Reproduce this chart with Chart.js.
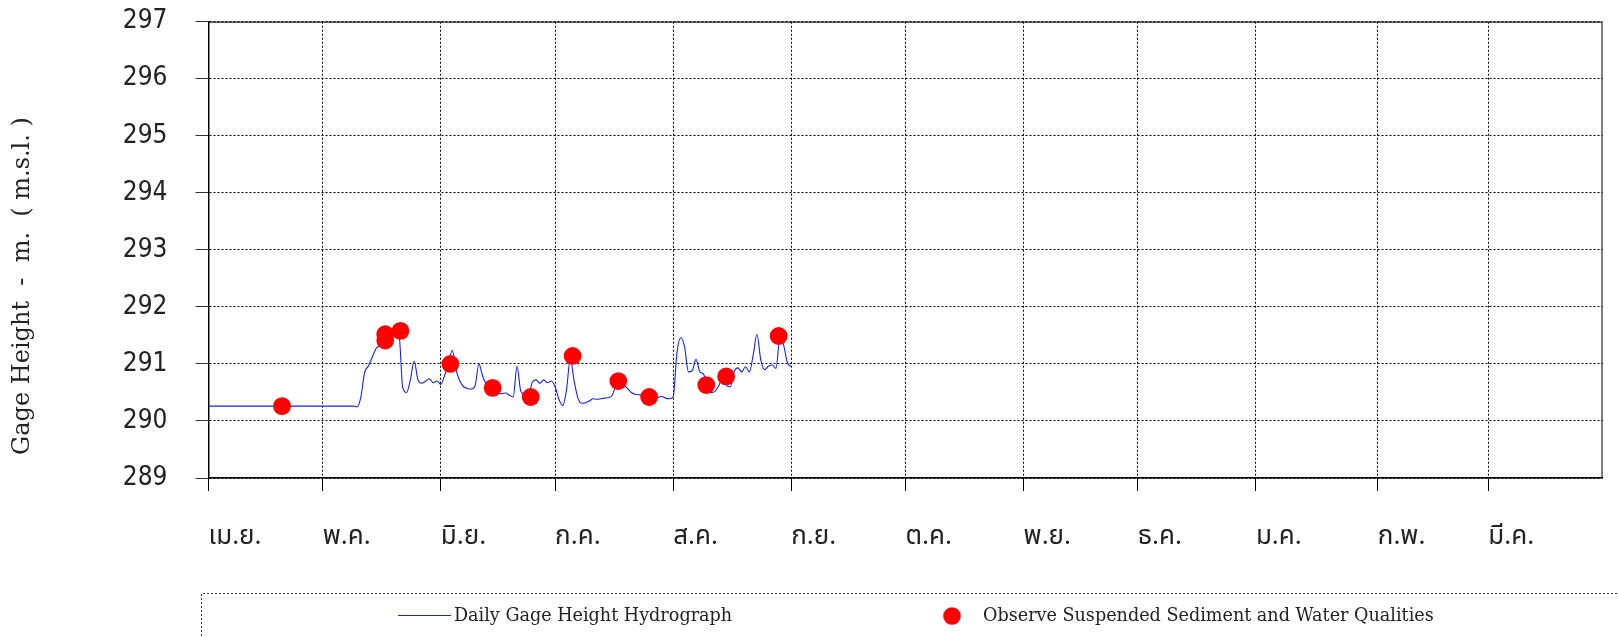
<!DOCTYPE html>
<html><head><meta charset="utf-8">
<script src="https://cdn.jsdelivr.net/npm/chart.js@4"></script>
<style>html,body{margin:0;padding:0;background:#fff;overflow:hidden}#wrap{width:1619px;height:637px;position:relative}</style>
</head><body><div id="wrap"><canvas id="c" width="1619" height="637"></canvas></div>
<script>
const monthLabels = ['เม.ย.','พ.ค.','มิ.ย.','ก.ค.','ส.ค.','ก.ย.','ต.ค.','พ.ย.','ธ.ค.','ม.ค.','ก.พ.','มี.ค.'];
const monthStartDays = [0,30,61,91,122,153,183,214,244,275,307,336];
const yearDays = 366;
const yTicks = [289,290,291,292,293,294,295,296,297];

// daily gage height, day 0 = 1 April
const gageHeight = [
290.26,290.26,290.26,290.26,290.26,290.26,290.26,290.26,290.26,290.26,
290.26,290.26,290.26,290.26,290.26,290.26,290.26,290.26,290.26,290.26,
290.26,290.26,290.26,290.26,290.26,290.26,290.26,290.26,290.26,290.26,
290.26,290.26,290.26,290.26,290.26,290.26,290.26,290.26,290.26,290.25,
290.42,290.85,290.97,291.12,291.27,291.32,291.36,291.42,291.48,291.55,
291.52,290.58,290.50,290.72,291.05,290.72,290.66,290.70,290.74,290.67,
290.70,290.64,290.80,291.00,291.24,290.90,290.70,290.60,290.57,290.56,
290.62,291.00,290.78,290.64,290.58,290.53,290.49,290.48,290.49,290.45,
290.42,290.96,290.52,290.47,290.44,290.68,290.72,290.66,290.72,290.67,
290.70,290.60,290.38,290.27,290.55,291.10,290.70,290.40,290.31,290.32,
290.35,290.39,290.38,290.39,290.40,290.41,290.45,290.63,290.68,290.63,
290.57,290.50,290.47,290.46,290.44,290.42,290.40,290.39,290.41,290.43,
290.40,290.39,290.42,291.20,291.46,291.30,290.86,290.88,291.08,290.86,
290.82,290.56,290.50,290.52,290.62,290.76,290.62,290.60,290.86,290.93,
290.86,290.95,290.86,291.15,291.52,291.07,290.90,290.96,290.98,290.92,
291.45,291.33,291.02,290.95
];

// observed sediment / water quality samples
const obsDays    = [19.3, 46.4, 46.4, 50.4, 63.5, 74.6, 84.6, 95.6, 107.6, 115.7, 130.7, 135.9, 149.7];
const obsHeights = [290.26, 291.52, 291.41, 291.58, 291.00, 290.58, 290.42, 291.14, 290.70, 290.42, 290.63, 290.78, 291.49];

const yTitleText = 'Gage Height  -  m.  ( m.s.l. )';
const legendLineText = 'Daily Gage Height Hydrograph';
const legendDotText = 'Observe Suspended Sediment and Water Qualities';

const LINE_COLOR = 'rgb(20,30,255)';
const DOT_COLOR = '#ff0000';
const TXT = '#222';
const SERIF = '"DejaVu Serif", "Liberation Serif", serif';

const extras = {
  id: 'extras',
  beforeDatasetsDraw(chart) {
    const {ctx, chartArea: a} = chart;
    ctx.save();
    ctx.strokeStyle = '#000';
    ctx.lineWidth = 1;
    ctx.beginPath();
    ctx.moveTo(a.left, a.top + 0.5);
    ctx.lineTo(a.right - 0.5, a.top + 0.5);
    ctx.lineTo(a.right - 0.5, a.bottom);
    ctx.stroke();
    ctx.restore();
  },
  afterDraw(chart) {
    const {ctx} = chart;
    ctx.save();
    ctx.translate(23, 286);
    ctx.rotate(-Math.PI / 2);
    ctx.fillStyle = TXT;
    ctx.font = '24px ' + SERIF;
    ctx.textAlign = 'center';
    ctx.textBaseline = 'middle';
    ctx.fillText(yTitleText, 0, 0);
    ctx.restore();

    ctx.save();
    ctx.strokeStyle = '#333';
    ctx.lineWidth = 1;
    ctx.setLineDash([2, 2]);
    ctx.beginPath();
    ctx.moveTo(201.5, 640);
    ctx.lineTo(201.5, 593.5);
    ctx.lineTo(1619, 593.5);
    ctx.stroke();
    ctx.setLineDash([]);
    ctx.strokeStyle = LINE_COLOR;
    ctx.beginPath();
    ctx.moveTo(398, 615.5);
    ctx.lineTo(451, 615.5);
    ctx.stroke();
    ctx.fillStyle = DOT_COLOR;
    ctx.beginPath();
    ctx.arc(952, 616, 8.8, 0, Math.PI * 2);
    ctx.fill();
    ctx.fillStyle = TXT;
    ctx.font = '17.6px ' + SERIF;
    ctx.textAlign = 'left';
    ctx.textBaseline = 'middle';
    ctx.fillText(legendLineText, 454, 616);
    ctx.fillText(legendDotText, 983, 616);
    ctx.restore();
  }
};

new Chart(document.getElementById('c'), {
  data: {
    datasets: [
      {
        type: 'scatter',
        label: legendDotText,
        data: obsDays.map((d, i) => ({x: d, y: obsHeights[i]})),
        backgroundColor: DOT_COLOR,
        borderWidth: 0,
        pointRadius: 8.9,
        pointHoverRadius: 8.9,
        order: 0
      },
      {
        type: 'line',
        label: legendLineText,
        data: gageHeight.map((v, i) => ({x: i, y: v})),
        borderColor: LINE_COLOR,
        borderWidth: 1.1,
        pointRadius: 0,
        fill: false,
        cubicInterpolationMode: 'monotone',
        order: 1
      }
    ]
  },
  options: {
    responsive: false,
    animation: false,
    devicePixelRatio: 1,
    layout: {padding: {left: 0, top: 21.7, right: 16.5, bottom: 0}},
    plugins: {legend: {display: false}, tooltip: {enabled: false}},
    scales: {
      x: {
        type: 'linear',
        min: 0,
        max: yearDays,
        afterBuildTicks: s => { s.ticks = monthStartDays.map(v => ({value: v})); },
        afterFit: s => { s.height = 159; s.paddingLeft = 0; s.paddingRight = 0; },
        grid: {color: '#000', lineWidth: 1, tickLength: 13, tickColor: '#000', tickWidth: 1},
        border: {display: true, color: '#000', width: 1.5, dash: [2, 2]},
        ticks: {
          autoSkip: false,
          maxRotation: 0,
          align: 'start',
          padding: 32,
          color: TXT,
          font: {family: '"Noto Sans Thai", "Noto Sans", "DejaVu Sans", sans-serif', size: 26},
          callback: v => monthLabels[monthStartDays.indexOf(v)]
        }
      },
      y: {
        type: 'linear',
        min: yTicks[0],
        max: yTicks[yTicks.length - 1],
        afterBuildTicks: s => { s.ticks = yTicks.map(v => ({value: v})); },
        afterFit: s => { s.width = 208.5; s.paddingTop = 0; s.paddingBottom = 0; },
        grid: {color: '#000', lineWidth: 1, tickLength: 13, tickColor: '#333', tickWidth: 1},
        border: {display: true, color: '#000', width: 1.5, dash: [2, 2]},
        ticks: {
          padding: 28,
          color: TXT,
          font: {family: '"Liberation Sans Narrow", "DejaVu Sans Condensed", "Liberation Sans", sans-serif', size: 26},
          callback: v => String(v)
        }
      }
    }
  },
  plugins: [extras]
});
</script>
</body></html>
